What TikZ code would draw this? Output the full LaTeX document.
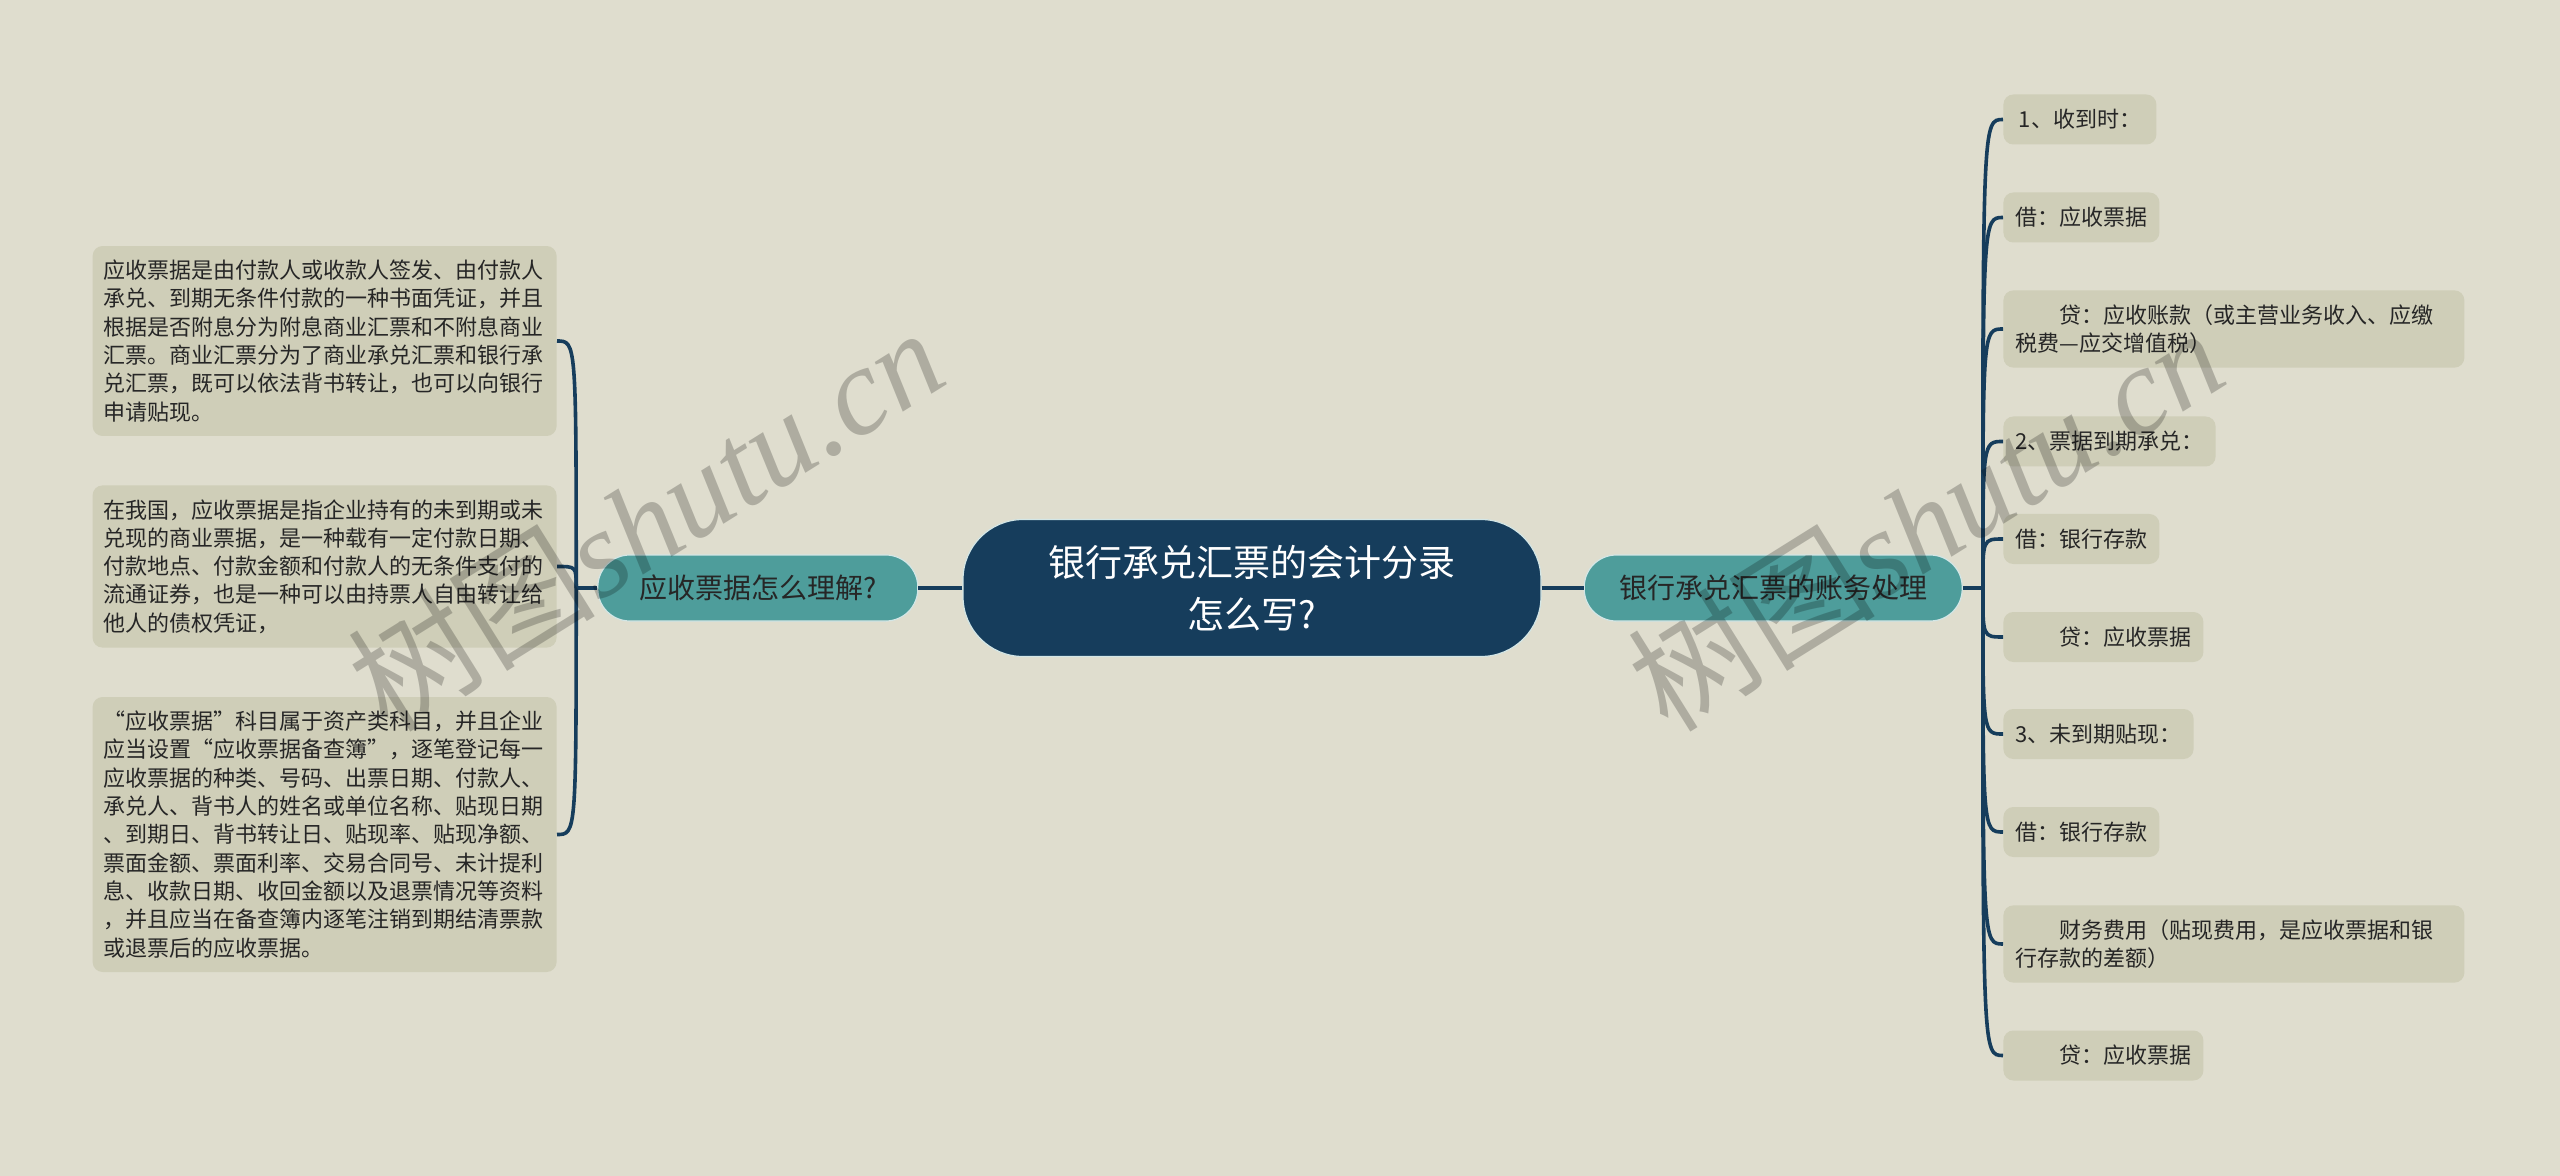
\documentclass[tikz,border=0pt]{standalone}
\usepackage{fontspec}
\setmainfont{Noto Sans CJK SC}
\newfontfamily\markfont{Liberation Serif}
\newfontfamily\cjkmark{Noto Sans CJK SC}
\usepackage{xcolor}
\usetikzlibrary{positioning}

\definecolor{bgcolor}{HTML}{DFDDCE}
\definecolor{leafcolor}{HTML}{CFCEB8}
\definecolor{tealcolor}{HTML}{4E9D9B}
\definecolor{navy}{HTML}{163D5C}
\definecolor{inktext}{HTML}{262626}

\begin{document}
\begin{tikzpicture}[
    x=0.5pt, y=-0.5pt,
    hub/.style={rectangle, rounded corners=30pt, fill=navy, draw=white!75!tealcolor, line width=0.6pt, text=white, minimum width=289pt, minimum height=68.5pt, align=center, font=\fontsize{18.5pt}{26pt}\selectfont},
    topic/.style={rectangle, rounded corners=16pt, fill=tealcolor, draw=white!75!tealcolor, line width=0.6pt, text=inktext, minimum height=33pt, font=\fontsize{14pt}{17pt}\selectfont},
    leaf/.style={rectangle, rounded corners=5pt, fill=leafcolor, inner xsep=6pt, inner ysep=7pt, minimum width=76.5pt, minimum height=25pt, align=left, text=inktext, font=\fontsize{11pt}{14.15pt}\selectfont},
    note/.style={leaf, inner xsep=5.5pt, text width=221pt},
    wideleaf/.style={leaf, text width=218.5pt},
    link/.style={draw=navy, line width=1.8pt},
    watermark/.style={text=black, text opacity=0.22, font=\fontsize{62pt}{66pt}\selectfont, rotate=32}
]
\fill[bgcolor] (0,0) rectangle (2560,1176);
\useasboundingbox (0,0) rectangle (2560,1176);

% Nodes
\node[hub] (ctr) at (1252,588) {银行承兑汇票的会计分录\\怎么写?};
\node[topic, minimum width=160pt, left=22pt of ctr] (qa) {应收票据怎么理解?};
\node[topic, minimum width=189pt, right=21pt of ctr] (acc) {银行承兑汇票的账务处理};
\coordinate[left=10.5pt of qa] (lj);
\coordinate[right=10pt of acc] (rj);

% left notes
\node[note, anchor=east] (l1) at (557,341) {应收票据是由付款人或收款人签发、由付款人\\承兑、到期无条件付款的一种书面凭证，并且\\根据是否附息分为附息商业汇票和不附息商业\\汇票。商业汇票分为了商业承兑汇票和银行承\\兑汇票，既可以依法背书转让，也可以向银行\\申请贴现。};
\node[note, anchor=east] (l2) at (557,566.5) {在我国，应收票据是指企业持有的未到期或未\\兑现的商业票据，是一种载有一定付款日期、\\付款地点、付款金额和付款人的无条件支付的\\流通证券，也是一种可以由持票人自由转让给\\他人的债权凭证，};
\node[note, anchor=east] (l3) at (557,834.5) {“应收票据”科目属于资产类科目，并且企业\\应当设置“应收票据备查簿”，逐笔登记每一\\应收票据的种类、号码、出票日期、付款人、\\承兑人、背书人的姓名或单位名称、贴现日期\\、到期日、背书转让日、贴现率、贴现净额、\\票面金额、票面利率、交易合同号、未计提利\\息、收款日期、收回金额以及退票情况等资料\\，并且应当在备查簿内逐笔注销到期结清票款\\或退票后的应收票据。};

% right entries
\node[leaf, anchor=west] (r1) at (2003,119.5) {1、收到时：};
\node[leaf, anchor=west] (r2) at (2003,217.5) {借：应收票据};
\node[wideleaf, anchor=west] (r3) at (2003,329) {\hspace*{2em}贷：应收账款（或主营业务收入、应缴\\税费—应交增值税）};
\node[leaf, anchor=west] (r4) at (2003,441.5) {2、票据到期承兑：};
\node[leaf, anchor=west] (r5) at (2003,539) {借：银行存款};
\node[leaf, anchor=west] (r6) at (2003,637) {\hspace*{2em}贷：应收票据};
\node[leaf, anchor=west] (r7) at (2003,734) {3、未到期贴现：};
\node[leaf, anchor=west] (r8) at (2003,832) {借：银行存款};
\node[wideleaf, anchor=west] (r9) at (2003,944) {\hspace*{2em}财务费用（贴现费用，是应收票据和银\\行存款的差额）};
\node[leaf, anchor=west] (r10) at (2003,1055.5) {\hspace*{2em}贷：应收票据};

% Links
\draw[link] (ctr) -- (qa);
\draw[link] (ctr) -- (acc);
\draw[link] (qa.west) -- (lj);
\draw[link] (acc.east) -- (rj);
\foreach \n in {l1,l2,l3}
    \draw[link] (lj) .. controls (lj |- \n.east) .. (\n.east);
\foreach \n in {r1,r2,r3,r4,r5,r6,r7,r8,r9,r10}
    \draw[link] (rj) .. controls (rj |- \n.west) .. (\n.west);

% watermarks
\node[watermark] (wm1) at (645,518) {{\cjkmark 树图}{\markfont\itshape shutu.cn}};
\node[watermark] (wm2) at (1925,518) {{\cjkmark 树图}{\markfont\itshape shutu.cn}};

\end{tikzpicture}
\end{document}
